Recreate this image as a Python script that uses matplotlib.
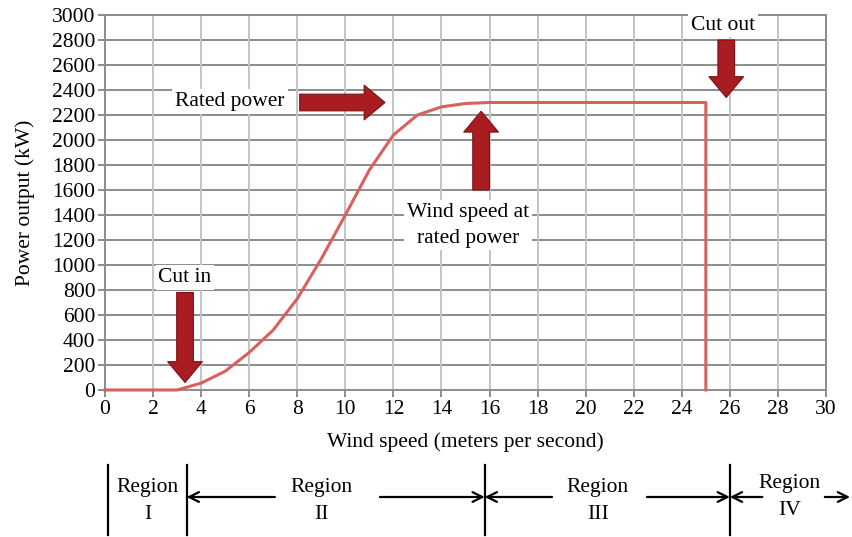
import matplotlib.pyplot as plt
from matplotlib import rcParams

rcParams['font.family'] = ['Liberation Serif', 'DejaVu Serif']

# power curve (m/s, kW)
wind_speed = [0, 1, 2, 3, 4, 5, 6, 7, 8, 9, 10, 11, 12, 13, 14, 15, 16, 18, 20, 22, 24, 25, 25]
power_kw = [0, 0, 0, 0, 55, 150, 300, 480, 730, 1050, 1400, 1760, 2040, 2200, 2265, 2292, 2300,
            2300, 2300, 2300, 2300, 2300, 0]

# region boundaries along the wind speed axis
region_edges = [0.12, 3.4, 15.8, 26.0]
region_names = ['Region\nI', 'Region\nII', 'Region\nIII', 'Region\nIV']
region_label_x = [1.78, 9.0, 20.5, 28.5]

ARROW_RED = '#a81c22'
ARROW_EDGE = '#7c1116'
FS = 15.5

fig = plt.figure(figsize=(8.53, 5.37), dpi=100)
ax = fig.add_axes([105 / 853, 1 - 390 / 537, 721 / 853, 375 / 537])

ax.plot(wind_speed, power_kw, color='#d9605c', lw=2.2, zorder=3, clip_on=False)

ax.set_xlim(0, 30)
ax.set_ylim(0, 3000)
ax.set_xticks(range(0, 31, 2))
ax.set_yticks(range(0, 3001, 200))
for y in range(200, 3001, 200):
    ax.axhline(y, color='#8c8c8c', lw=1.4, zorder=1)
for x in range(2, 31, 2):
    ax.axvline(x, color='#c4c4c4', lw=1.4, zorder=1)
for s in ax.spines.values():
    s.set_color('#8c8c8c')
    s.set_linewidth(1.4)
ax.tick_params(length=5, width=1.4, color='#8c8c8c', labelsize=FS, pad=2)
ax.set_xlabel('Wind speed (meters per second)', fontsize=FS, labelpad=10)
ax.set_ylabel('Power output (kW)', fontsize=FS, labelpad=12)

box = dict(facecolor='white', edgecolor='none', pad=2)


def big_arrow(start, end):
    ax.annotate('', xy=end, xytext=start, zorder=5,
                arrowprops=dict(arrowstyle='simple,head_width=1.25,head_length=0.75,tail_width=0.6',
                                mutation_scale=20, fc=ARROW_RED, ec=ARROW_EDGE, lw=0.8,
                                shrinkA=0, shrinkB=0))


big_arrow((8.1, 2300), (11.65, 2300))
big_arrow((3.33, 780), (3.33, 60))
big_arrow((15.65, 1600), (15.65, 2230))
big_arrow((25.85, 2800), (25.85, 2340))

ax.text(5.2, 2310, 'Rated power', fontsize=FS, ha='center', va='center', bbox=box, zorder=4)
ax.text(3.33, 900, 'Cut in', fontsize=FS, ha='center', va='center', bbox=box, zorder=4)
ax.text(15.1, 1320, 'Wind speed at\nrated power', fontsize=FS, ha='center', va='center',
        bbox=box, zorder=4, linespacing=1.5)
ax.text(25.7, 2920, 'Cut out', fontsize=FS, ha='center', va='center', bbox=box, zorder=4)

# region strip under the chart
rx = fig.add_axes([105 / 853, 0, 721 / 853, 77 / 537])
rx.set_xlim(0, 30)
rx.set_ylim(0, 77)
rx.axis('off')
for e in region_edges:
    rx.plot([e, e], [2, 72], color='black', lw=1.6, clip_on=False)

mid = 40
spans = [(7.07, region_edges[1]), (11.44, region_edges[2]),
         (18.6, region_edges[2]), (22.55, region_edges[3]),
         (27.35, region_edges[3]), (29.95, 31.0)]
for a, b in spans:
    rx.annotate('', xy=(b, mid), xytext=(a, mid), annotation_clip=False,
                arrowprops=dict(arrowstyle='->,head_width=0.35,head_length=0.7',
                                color='black', lw=1.6, shrinkA=0, shrinkB=0))

for name, x in zip(region_names, region_label_x):
    yy = mid if name.endswith('IV') else mid - 4
    rx.text(x, yy, name, fontsize=FS, ha='center', va='center', linespacing=1.55)

fig.savefig('out.png', dpi=100)
